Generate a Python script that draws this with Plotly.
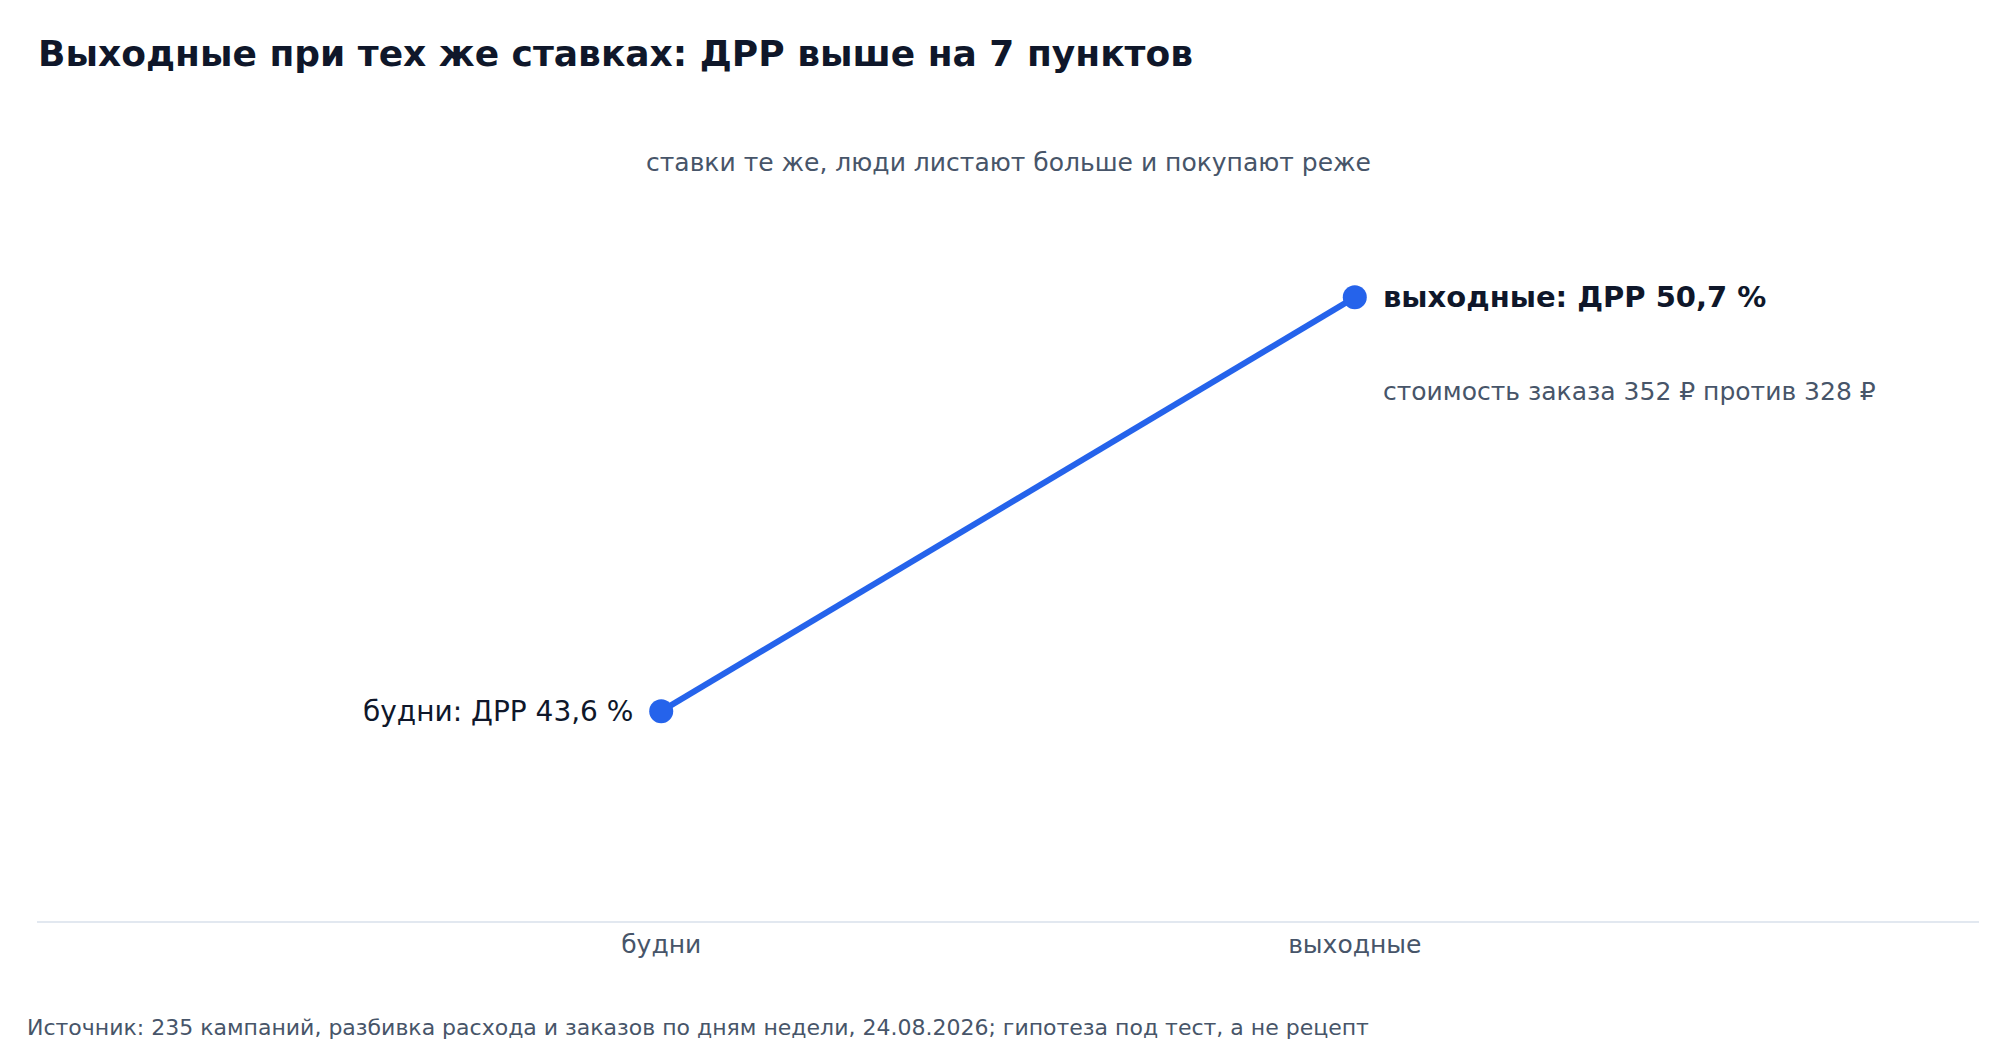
import plotly.graph_objects as go

# data
periods = ["будни", "выходные"]
drr_values = [43.6, 50.7]
point_labels = ["будни: ДРР 43,6 %", "выходные: ДРР 50,7 %"]
order_cost_note = "стоимость заказа 352 ₽ против 328 ₽"

title_text = "Выходные при тех же ставках: ДРР выше на 7 пунктов"
subtitle_text = "ставки те же, люди листают больше и покупают реже"
source_text = (
    "Источник: 235 кампаний, разбивка расхода и заказов по дням недели, "
    "24.08.2026; гипотеза под тест, а не рецепт"
)

BLUE = "#2563eb"
DARK = "#0f172a"
MUTED = "#475569"
FONT = "DejaVu Sans"

fig = go.Figure()
fig.add_trace(
    go.Scatter(
        x=periods,
        y=drr_values,
        mode="lines+markers",
        line=dict(color=BLUE, width=6),
        marker=dict(color=BLUE, size=24),
        hoverinfo="skip",
        showlegend=False,
    )
)

# point labels
fig.add_annotation(
    x=periods[0], y=drr_values[0], text=point_labels[0],
    xanchor="right", yanchor="middle", xshift=-26, showarrow=False,
    font=dict(family=FONT, size=28, color=DARK),
)
fig.add_annotation(
    x=periods[1], y=drr_values[1], text="<b>" + point_labels[1] + "</b>",
    xanchor="left", yanchor="middle", xshift=26, showarrow=False,
    font=dict(family=FONT, size=29, color=DARK),
)
fig.add_annotation(
    x=periods[1], y=drr_values[1], text=order_cost_note,
    xanchor="left", yanchor="middle", xshift=26, yshift=-94, showarrow=False,
    font=dict(family=FONT, size=25, color=MUTED),
)

# subtitle and source
fig.add_annotation(
    x=0.5, y=1.0, xref="paper", yref="paper", yshift=-57,
    text=subtitle_text, showarrow=False, xanchor="center", yanchor="middle",
    font=dict(family=FONT, size=25, color=MUTED),
)
fig.add_annotation(
    x=0, y=0, xref="paper", yref="paper", xshift=-12, yshift=-106,
    text=source_text, showarrow=False, xanchor="left", yanchor="middle",
    font=dict(family=FONT, size=22, color=MUTED),
)

fig.update_layout(
    width=2000,
    height=1040,
    paper_bgcolor="white",
    plot_bgcolor="white",
    margin=dict(l=29, r=29, t=97, b=127),
    title=dict(
        text="<b>" + title_text + "</b>",
        x=0.015, xanchor="left", y=0.956, yanchor="middle",
        font=dict(family=FONT, size=36, color=DARK),
    ),
    font=dict(family=FONT),
)
fig.update_xaxes(
    range=[-0.9, 1.9],
    showgrid=False,
    zeroline=False,
    showline=True,
    linecolor="#e2e8f0",
    linewidth=2,
    ticks="",
    tickfont=dict(family=FONT, size=25, color=MUTED),
)
fig.update_yaxes(
    range=[40, 54],
    showgrid=False,
    zeroline=False,
    showticklabels=False,
    showline=False,
)

fig.write_html("out.html")
